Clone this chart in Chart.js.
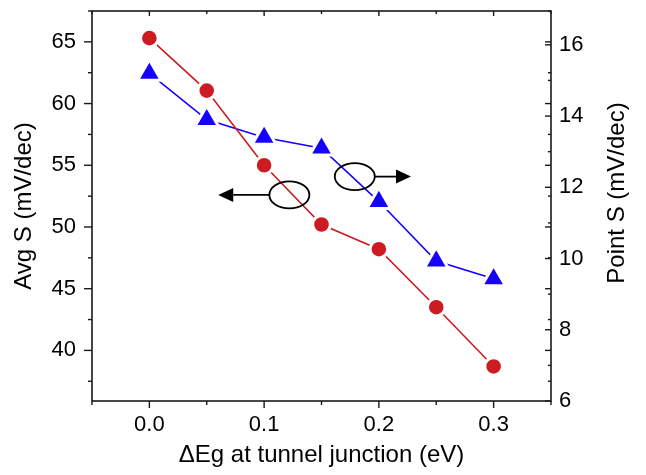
<!DOCTYPE html>
<html>
<head>
<meta charset="utf-8">
<title>Subthreshold swing vs tunnel junction offset</title>
<script src="https://cdn.jsdelivr.net/npm/chart.js@4.4.0/dist/chart.umd.min.js"></script>
<style>
    html, body { margin: 0; padding: 0; background: #fff; }
    #wrap { width: 646px; height: 475px; }
</style>
</head>
<body>
<div id="wrap"><canvas id="swingChart" width="646" height="475"></canvas></div>
<script>
'use strict';

// ------------------------------------------------------- //
// Data
// ------------------------------------------------------ //
var deltaEg = [0, 0.05, 0.1, 0.15, 0.2, 0.25, 0.3];
var avgS = [65.3, 61.05, 55.0, 50.2, 48.2, 43.5, 38.7];       // left axis, mV/dec
var pointS = [15.2, 13.9, 13.4, 13.1, 11.6, 9.93, 9.43];      // right axis, mV/dec

var xTickLabels = [0.0, 0.1, 0.2, 0.3];
var leftTickLabels = [40, 45, 50, 55, 60, 65];
var rightTickLabels = [6, 8, 10, 12, 14, 16];

var RED = '#cc1b21';
var BLUE = '#1600ff';
var INK = '#1a1a1a';
var FONT = "'Liberation Sans', Arial, Helvetica, sans-serif";
var TICK_SIZE = 22;
var TITLE_SIZE = 24;

// only the listed values get a printed label, the rest stay as minor ticks
function labelFor(list, digits) {
    return function (value) {
        for (var i = 0; i < list.length; i++) {
            if (Math.abs(list[i] - value) < 1e-6) {
                return list[i].toFixed(digits);
            }
        }
        return '';
    };
}

function toPoints(xs, ys) {
    return xs.map(function (x, i) { return { x: x, y: ys[i] }; });
}

// fixed axis boxes so the plot area sits where it should
function fixBox(size) {
    return function (s) {
        if (s.isHorizontal()) {
            s.height = size;
        } else {
            s.width = size;
        }
        s.paddingTop = 0;
        s.paddingBottom = 0;
        s.paddingLeft = 0;
        s.paddingRight = 0;
    };
}

// ------------------------------------------------------- //
// Frame, Origin style ticks, arrows and right title
// ------------------------------------------------------ //
function tickMarks(ctx, scale, edge, dir, majorLen, minorLen, horizontal) {
    scale.ticks.forEach(function (t) {
        var p = scale.getPixelForValue(t.value);
        var len = t.label !== '' ? majorLen : minorLen;
        ctx.beginPath();
        if (horizontal) {
            ctx.moveTo(p, edge);
            ctx.lineTo(p, edge + dir * len);
        } else {
            ctx.moveTo(edge, p);
            ctx.lineTo(edge + dir * len, p);
        }
        ctx.stroke();
    });
}

function ellipseArrow(ctx, cx, cy, tipX) {
    var rx = 20, ry = 13.5;
    var dir = tipX < cx ? -1 : 1;
    var startX = cx + dir * rx;
    var headLen = 15, headHalf = 7;

    ctx.beginPath();
    ctx.ellipse(cx, cy, rx, ry, 0, 0, Math.PI * 2);
    ctx.stroke();

    ctx.beginPath();
    ctx.moveTo(startX, cy);
    ctx.lineTo(tipX - dir * headLen, cy);
    ctx.stroke();

    ctx.beginPath();
    ctx.moveTo(tipX, cy);
    ctx.lineTo(tipX - dir * headLen, cy - headHalf);
    ctx.lineTo(tipX - dir * headLen, cy + headHalf);
    ctx.closePath();
    ctx.fill();
}

var originFrame = {
    id: 'originFrame',
    afterDatasetsDraw: function (chart) {
        var ctx = chart.ctx;
        var a = chart.chartArea;
        var x = chart.scales.x, yL = chart.scales.yL, yR = chart.scales.yR;

        ctx.save();
        ctx.strokeStyle = '#000';
        ctx.fillStyle = '#000';
        ctx.lineWidth = 1.8;

        // arrows pointing each series to its axis
        ellipseArrow(ctx, x.getPixelForValue(0.122), yL.getPixelForValue(52.6), x.getPixelForValue(0.060));
        ellipseArrow(ctx, x.getPixelForValue(0.179), yR.getPixelForValue(12.3), x.getPixelForValue(0.228));

        ctx.strokeStyle = INK;
        ctx.lineWidth = 1.6;
        ctx.strokeRect(a.left, a.top, a.right - a.left, a.bottom - a.top);

        ctx.lineWidth = 1.4;
        tickMarks(ctx, x, a.bottom, 1, 7, 4, true);
        tickMarks(ctx, x, a.top, 1, 5, 3, true);
        tickMarks(ctx, yL, a.left, -1, 8, 4, false);
        tickMarks(ctx, yL, a.right, -1, 6, 3, false);
        tickMarks(ctx, yR, a.right, -1, 6, 3, false);

        // right axis title reads bottom to top like the left one
        ctx.fillStyle = '#000';
        ctx.font = TITLE_SIZE + 'px ' + FONT;
        ctx.textAlign = 'center';
        ctx.textBaseline = 'middle';
        ctx.translate(617, 193);
        ctx.rotate(-Math.PI / 2);
        ctx.fillText('Point S (mV/dec)', 0, 0);
        ctx.restore();
    }
};

// ------------------------------------------------------- //
// Chart
// ------------------------------------------------------ //
var SWINGCHART = document.getElementById('swingChart');
var swingChart = new Chart(SWINGCHART, {
    type: 'scatter',
    plugins: [originFrame],
    data: {
        datasets: [{
            label: 'Avg S',
            data: toPoints(deltaEg, avgS),
            yAxisID: 'yL',
            showLine: true,
            borderColor: RED,
            borderWidth: 1.6,
            pointStyle: 'circle',
            pointRadius: 8.8,
            pointBackgroundColor: RED,
            pointBorderColor: '#fff',
            pointBorderWidth: 3
        }, {
            label: 'Point S',
            data: toPoints(deltaEg, pointS),
            yAxisID: 'yR',
            showLine: true,
            borderColor: BLUE,
            borderWidth: 1.6,
            pointStyle: 'triangle',
            pointRadius: 13.7,
            pointBackgroundColor: BLUE,
            pointBorderColor: '#fff',
            pointBorderWidth: 3
        }]
    },
    options: {
        responsive: false,
        animation: false,
        events: [],
        layout: {
            autoPadding: false,   // big markers would otherwise push the plot area down
            padding: { top: 11, left: 0, right: 0, bottom: 0 }
        },
        plugins: {
            legend: { display: false },
            tooltip: { enabled: false }
        },
        scales: {
            x: {
                type: 'linear',
                min: -0.05,
                max: 0.35,
                afterFit: fixBox(74),
                grid: { display: false, drawTicks: false },
                border: { display: false },
                ticks: {
                    stepSize: 0.05,
                    padding: 11,
                    color: '#000',
                    autoSkip: false,
                    maxRotation: 0,
                    font: { family: FONT, size: TICK_SIZE },
                    callback: labelFor(xTickLabels, 1)
                },
                title: {
                    display: true,
                    text: '\u0394Eg at tunnel junction (eV)',
                    color: '#000',
                    font: { family: FONT, size: TITLE_SIZE },
                    padding: { top: 0, bottom: 5 }
                }
            },
            yL: {
                type: 'linear',
                position: 'left',
                min: 35.9,
                max: 67.5,
                afterFit: fixBox(92),
                grid: { display: false, drawTicks: false },
                border: { display: false },
                ticks: {
                    stepSize: 2.5,
                    includeBounds: false,
                    padding: 16,
                    color: '#000',
                    autoSkip: false,
                    font: { family: FONT, size: TICK_SIZE },
                    callback: labelFor(leftTickLabels, 0)
                },
                title: {
                    display: true,
                    text: 'Avg S (mV/dec)',
                    color: '#000',
                    font: { family: FONT, size: TITLE_SIZE },
                    padding: { top: 10, bottom: 0 }
                }
            },
            yR: {
                type: 'linear',
                position: 'right',
                min: 6,
                max: 16.95,
                afterFit: fixBox(95),
                grid: { display: false, drawTicks: false },
                border: { display: false },
                ticks: {
                    stepSize: 1,
                    includeBounds: false,
                    padding: 8,
                    color: '#000',
                    autoSkip: false,
                    font: { family: FONT, size: TICK_SIZE },
                    callback: labelFor(rightTickLabels, 0)
                },
                title: { display: false }
            }
        }
    }
});
</script>
</body>
</html>
